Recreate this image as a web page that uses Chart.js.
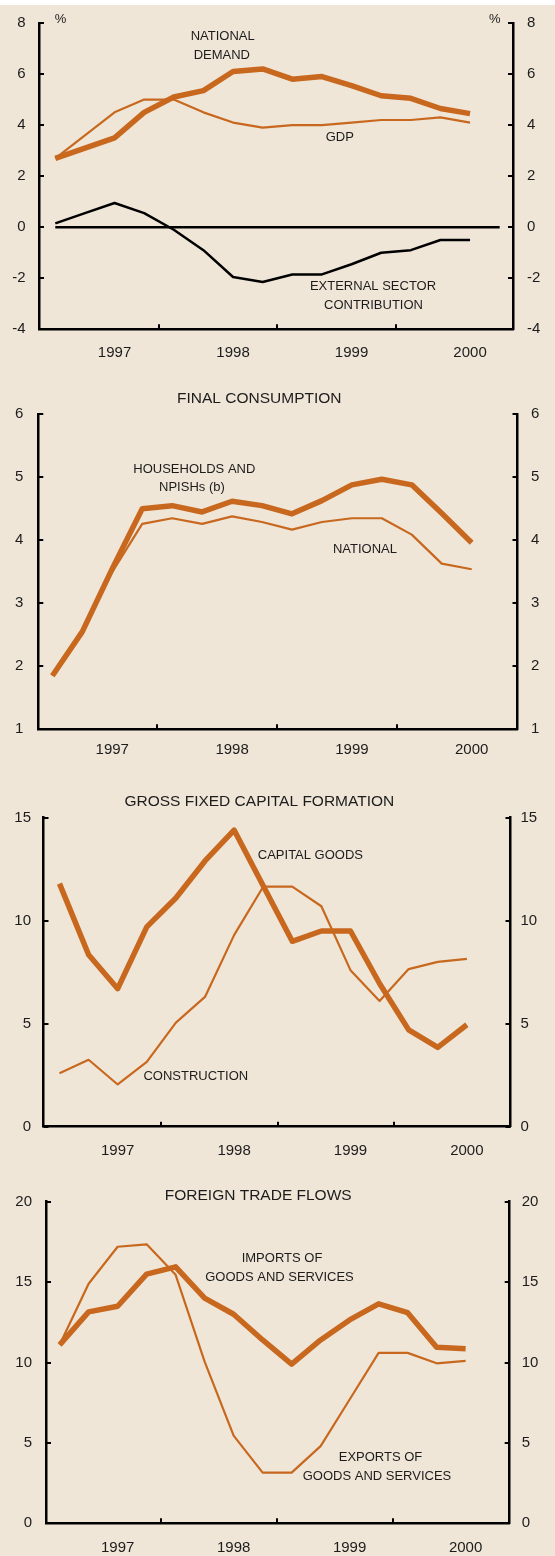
<!DOCTYPE html>
<html><head><meta charset="utf-8">
<script src="https://cdn.jsdelivr.net/npm/chart.js@4/dist/chart.umd.min.js"></script>
<style>
html,body{margin:0;padding:0;background:#fff;width:555px;height:1556px;overflow:hidden;}
#bg{position:absolute;left:0;top:5px;width:555px;height:1551px;background:#EFE6D8;}
canvas{position:absolute;left:0;}
</style></head><body>
<div id="bg"></div>
<canvas id="c1" width="555" height="372" style="top:0px"></canvas>
<canvas id="c2" width="555" height="400" style="top:372px"></canvas>
<canvas id="c3" width="555" height="390" style="top:772px"></canvas>
<canvas id="c4" width="555" height="394" style="top:1162px"></canvas>
<script>
// ---- categories ----
const quarters = ['1997 Q1','1997 Q2','1997 Q3','1997 Q4','1998 Q1','1998 Q2','1998 Q3','1998 Q4',
                  '1999 Q1','1999 Q2','1999 Q3','1999 Q4','2000 Q1','2000 Q2','2000 Q3'];
const yearLabels = ['1997','1998','1999','2000'];

// ---- panel 1: national demand, GDP, external sector (%) ----
const nationalDemand = [2.7, 3.1, 3.5, 4.5, 5.1, 5.35, 6.1, 6.2, 5.8, 5.9, 5.55, 5.15, 5.05, 4.65, 4.45];
const gdp            = [2.7, 3.6, 4.5, 5.0, 5.0, 4.5, 4.1, 3.9, 4.0, 4.0, 4.1, 4.2, 4.2, 4.3, 4.1];
const externalSector = [0.15, 0.55, 0.95, 0.55, -0.1, -0.9, -1.95, -2.15, -1.85, -1.85, -1.45, -1.0, -0.9, -0.5, -0.5];
const ticks1 = [-4, -2, 0, 2, 4, 6, 8];

// ---- panel 2: final consumption ----
const households = [1.85, 2.55, 3.55, 4.5, 4.55, 4.45, 4.62, 4.55, 4.42, 4.63, 4.88, 4.97, 4.88, 4.43, 3.96];
const nationalConsumption = [1.85, 2.55, 3.5, 4.26, 4.35, 4.26, 4.38, 4.29, 4.17, 4.29, 4.35, 4.35, 4.09, 3.63, 3.54];
const ticks2 = [1, 2, 3, 4, 5, 6];

// ---- panel 3: gross fixed capital formation ----
const capitalGoods = [11.8, 8.35, 6.7, 9.7, 11.1, 12.9, 14.4, 11.7, 9.0, 9.5, 9.5, 6.95, 4.7, 3.85, 4.95];
const construction = [2.6, 3.25, 2.05, 3.15, 5.05, 6.3, 9.3, 11.65, 11.65, 10.7, 7.6, 6.1, 7.65, 8.0, 8.15];
const ticks3 = [0, 5, 10, 15];

// ---- panel 4: foreign trade flows ----
const imports = [11.1, 13.15, 13.5, 15.5, 15.95, 14.0, 13.0, 11.4, 9.9, 11.4, 12.65, 13.65, 13.1, 10.95, 10.85];
const exports = [11.1, 14.9, 17.2, 17.35, 15.45, 10.05, 5.45, 3.15, 3.15, 4.8, 7.7, 10.6, 10.6, 9.95, 10.1];
const ticks4 = [0, 5, 10, 15, 20];

// derived positions on the quarter axis
const yearLabelAt = yearLabels.map(y => quarters.indexOf(y + ' Q3'));
const yearBoundaries = yearLabels.slice(1).map(y => quarters.indexOf(y + ' Q1') - 0.5);
const zeroLineSpan = quarters.concat(['2000 Q4']).map(() => 0);

const ORANGE = '#C8681E';
const TEXT = '#1c1c1c';
const FAMILY = '"Liberation Sans", Arial, Helvetica, sans-serif';

function pts(arr) { return arr.map((v, i) => ({ x: i, y: v })); }
function line(data, color, width, extra) {
  return Object.assign({ data: pts(data), borderColor: color, backgroundColor: color, borderWidth: width,
    pointRadius: 0, tension: 0, fill: false, borderJoinStyle: 'round', borderCapStyle: 'butt', clip: false }, extra || {});
}

function makePanel(cfg) {
  const canvas = document.getElementById(cfg.id);
  const H = canvas.height, W = canvas.width;
  const area = cfg.area; // page coords
  const top = cfg.top;
  const decor = {
    id: 'decor_' + cfg.id,
    afterDraw(chart) {
      const ctx = chart.ctx;
      const ca = chart.chartArea;
      const ys = chart.scales.y, xs = chart.scales.x;
      ctx.save();
      ctx.strokeStyle = '#000';
      ctx.lineWidth = 2;
      ctx.beginPath();
      ys.ticks.forEach(t => {
        const py = Math.round(ys.getPixelForValue(t.value));
        ctx.moveTo(ca.left, py); ctx.lineTo(ca.left + 5, py);
        ctx.moveTo(ca.right, py); ctx.lineTo(ca.right - 5, py);
      });
      yearBoundaries.forEach(v => {
        const px = Math.round(xs.getPixelForValue(v));
        ctx.moveTo(px, ca.bottom); ctx.lineTo(px, ca.bottom - 5);
      });
      ctx.stroke();
      ctx.fillStyle = TEXT;
      ctx.textAlign = 'center';
      ctx.textBaseline = 'middle';
      cfg.texts.forEach(t => {
        ctx.font = (t.size || 13) + 'px ' + FAMILY;
        ctx.fillText(t.text, t.x, t.y - top);
      });
      ctx.restore();
    }
  };
  const tickFont = { family: FAMILY, size: 15 };
  return new Chart(canvas, {
    type: 'line',
    data: { datasets: cfg.datasets },
    plugins: [decor],
    options: {
      responsive: false, animation: false, devicePixelRatio: 1,
      layout: { padding: { top: area.top - top, left: 0, right: 0, bottom: 0 } },
      plugins: { legend: { display: false }, tooltip: { enabled: false }, title: { display: false } },
      scales: {
        x: {
          type: 'linear', min: cfg.xMin, max: cfg.xMax,
          afterBuildTicks: s => { s.ticks = yearLabelAt.map(v => ({ value: v })); },
          ticks: { callback: (v, i) => yearLabels[i], font: tickFont, color: TEXT, padding: cfg.xPad, maxRotation: 0, autoSkip: false },
          grid: { drawOnChartArea: false, drawTicks: false },
          border: { color: '#000', width: 2.5 },
          afterFit: s => { s.height = top + H - area.bottom; }
        },
        y: {
          position: 'left', min: cfg.yTicks[0], max: cfg.yTicks[cfg.yTicks.length - 1],
          afterBuildTicks: s => { s.ticks = cfg.yTicks.map(v => ({ value: v })); },
          ticks: { font: tickFont, color: TEXT, padding: cfg.yPadL },
          grid: { drawOnChartArea: false, drawTicks: false },
          border: { color: '#000', width: 2.5 },
          afterFit: s => { s.width = area.left; }
        },
        y2: {
          position: 'right', min: cfg.yTicks[0], max: cfg.yTicks[cfg.yTicks.length - 1],
          afterBuildTicks: s => { s.ticks = cfg.yTicks.map(v => ({ value: v })); },
          ticks: { font: tickFont, color: TEXT, padding: cfg.yPadR },
          grid: { drawOnChartArea: false, drawTicks: false },
          border: { color: '#000', width: 2.5 },
          afterFit: s => { s.width = W - area.right; }
        }
      }
    }
  });
}

makePanel({
  id: 'c1', top: 0, area: { left: 39, right: 513, top: 20, bottom: 329.3 },
  xMin: -0.55, xMax: 15.45, xPad: 15, yPadL: 13.5, yPadR: 14, yTicks: ticks1,
  datasets: [
    line(zeroLineSpan, '#000', 2.5),
    line(externalSector, '#000', 2.5),
    line(gdp, ORANGE, 2.2),
    line(nationalDemand, ORANGE, 5.5)
  ],
  texts: [
    { text: 'NATIONAL', x: 222.7, y: 36 }, { text: 'DEMAND', x: 221.8, y: 55 },
    { text: 'GDP', x: 339.8, y: 137.3 },
    { text: 'EXTERNAL SECTOR', x: 373, y: 286 }, { text: 'CONTRIBUTION', x: 373.5, y: 305 },
    { text: '%', x: 60.5, y: 19 }, { text: '%', x: 494.9, y: 19 }
  ]
});

makePanel({
  id: 'c2', top: 372, area: { left: 38.3, right: 517.5, top: 414.3, bottom: 729.3 },
  xMin: -0.47, xMax: 15.53, xPad: 11.7, yPadL: 15, yPadR: 13.5, yTicks: ticks2,
  datasets: [
    line(nationalConsumption, ORANGE, 2.2),
    line(households, ORANGE, 5.5)
  ],
  texts: [
    { text: 'FINAL CONSUMPTION', x: 259.3, y: 398.3, size: 15.5 },
    { text: 'HOUSEHOLDS AND', x: 194.3, y: 469.3 }, { text: 'NPISHs (b)', x: 191.9, y: 487.3 },
    { text: 'NATIONAL', x: 365, y: 549.3 }
  ]
});

makePanel({
  id: 'c3', top: 772, area: { left: 43.5, right: 510.5, top: 817.7, bottom: 1126.7 },
  xMin: -0.55, xMax: 15.5, xPad: 15, yPadL: 12.5, yPadR: 10, yTicks: ticks3,
  datasets: [
    line(construction, ORANGE, 2.2),
    line(capitalGoods, ORANGE, 5.5)
  ],
  texts: [
    { text: 'GROSS FIXED CAPITAL FORMATION', x: 259.3, y: 801.7, size: 15.5 },
    { text: 'CAPITAL GOODS', x: 310.4, y: 855.7 },
    { text: 'CONSTRUCTION', x: 195.8, y: 1076.7 }
  ]
});

makePanel({
  id: 'c4', top: 1162, area: { left: 46, right: 509.7, top: 1201.7, bottom: 1523.3 },
  xMin: -0.47, xMax: 15.52, xPad: 16, yPadL: 14, yPadR: 12, yTicks: ticks4,
  datasets: [
    line(exports, ORANGE, 2.2),
    line(imports, ORANGE, 5.5)
  ],
  texts: [
    { text: 'FOREIGN TRADE FLOWS', x: 258.2, y: 1196, size: 15.5 },
    { text: 'IMPORTS OF', x: 282, y: 1258.3 }, { text: 'GOODS AND SERVICES', x: 279.5, y: 1277.3 },
    { text: 'EXPORTS OF', x: 380.5, y: 1457.7 }, { text: 'GOODS AND SERVICES', x: 377, y: 1476.7 }
  ]
});
</script>
</body></html>
